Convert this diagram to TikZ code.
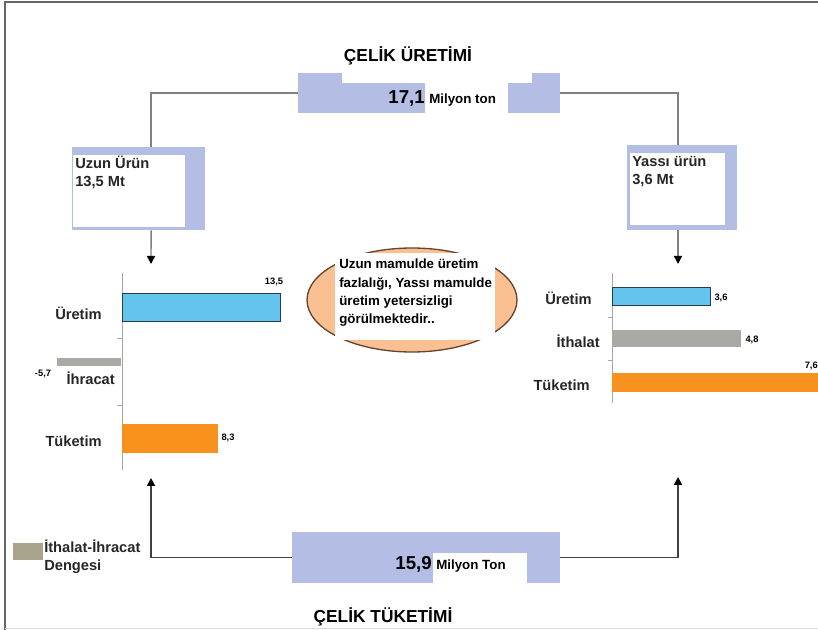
\documentclass[tikz,border=0pt]{standalone}
\usepackage{fontspec}
\setmainfont{Liberation Sans}
\usetikzlibrary{shapes.geometric,arrows.meta}
\definecolor{boxblue}{RGB}{180,189,228}
\definecolor{barblue}{RGB}{100,196,238}
\definecolor{barline}{RGB}{40,60,80}
\definecolor{barorange}{RGB}{247,146,30}
\definecolor{bargray}{RGB}{170,170,164}
\definecolor{ovalfill}{RGB}{250,192,145}
\definecolor{ovaldraw}{RGB}{100,70,45}
\definecolor{linegray}{RGB}{128,128,128}
\definecolor{keygray}{RGB}{168,164,142}
\begin{document}
\begin{tikzpicture}[x=0.75pt, y=-0.75pt,
	blockbox/.style = {fill=boxblue, inner sep=0pt},
	whitebox/.style = {fill=white, inner sep=0pt},
	barbox/.style = {inner sep=0pt},
	lbl/.style = {inner sep=0pt, text=black!85, font=\fontsize{11}{13.5}\selectfont\bfseries},
	num/.style = {inner sep=0pt, font=\fontsize{7}{8}\selectfont\bfseries},
	bignum/.style = {inner sep=0pt, font=\fontsize{14}{16}\selectfont\bfseries},
	unit/.style = {inner sep=0pt, font=\fontsize{10}{12}\selectfont\bfseries},
	title/.style = {inner sep=0pt, font=\fontsize{13}{15}\selectfont\bfseries},
	link/.style = {draw=linegray, line width=1.1pt},
	feed/.style = {draw=black!75, line width=1.3pt},
	tip/.style = {-{Triangle[length=6pt, width=6pt, color=black]}},
	axis/.style = {draw=gray!70, line width=0.6pt}]
	\useasboundingbox (0,0) rectangle (818,630);
	% frame
	\draw[gray!80!black, line width=1pt] (5,630) -- (5,2) -- (818,2);
	\draw[gray!30] (5,628) -- (818,628);
	% production
	\node (prod) at (429,93)	[blockbox, minimum width = 196.5pt, minimum height = 30pt]	{};
	\fill[white] (342,72) rectangle (532,83);
	\fill[white] (425,83) rectangle (508,114);
	\node (prodtitle) at (408,62)	[anchor = base, title]	{ÇELİK ÜRETİMİ};
	\node (prodnum) at (425,104)	[anchor = base east, bignum]	{17,1};
	\node (produnit) at (429,104)	[anchor = base west, unit]	{Milyon ton};
	% product boxes
	\node (uzun) at (138.5,188.5)	[blockbox, minimum width = 99.75pt, minimum height = 62.25pt]	{};
	\node (uzunin) at (129,191)	[whitebox, minimum width = 84pt, minimum height = 54pt]	{};
	\node (uzuntext) at (75,156)	[anchor = north west, lbl, align = left]	{Uzun Ürün\\13,5 Mt};
	\node (yassi) at (682,187.5)	[blockbox, minimum width = 82.5pt, minimum height = 63.75pt]	{};
	\node (yassiin) at (677.5,189)	[whitebox, minimum width = 71.25pt, minimum height = 54pt]	{};
	\node (yassitext) at (632,156)	[anchor = north west, lbl, align = left]	{Yassı ürün\\3,6 Mt};
	\coordinate (uzunchart) at (151,264);
	\coordinate (yassichart) at (678,264);
	\draw[link] (prod.west) -| ([xshift=9.4pt]uzun.north);
	\draw[link] (prod.east) -| ([xshift=-3pt]yassi.north);
	\draw[link, tip] ([xshift=9.4pt]uzun.south) -- (uzunchart);
	\draw[link, tip] ([xshift=-3pt]yassi.south) -- (yassichart);
	% left chart
	\draw[axis] (122,273) -- (122,470);
	\foreach \y in {338,405}
		\draw[axis] (117,\y) -- (122,\y);
	\node (luret) at (122,307)	[barbox, anchor = west, fill = barblue, draw = barline, minimum width = 118.5pt, minimum height = 21pt]	{};
	\node (luretv) at (274,282)	[num]	{13,5};
	\node (luretl) at (102,313)	[lbl, anchor = east]	{Üretim};
	\node (lihr) at (121,362)	[barbox, anchor = east, fill = bargray, minimum width = 48pt, minimum height = 6pt]	{};
	\node (lihrv) at (43,374)	[num]	{-5,7};
	\node (lihrl) at (115,378)	[lbl, anchor = east]	{İhracat};
	\node (ltuk) at (122,438.5)	[barbox, anchor = west, fill = barorange, minimum width = 72pt, minimum height = 21.75pt]	{};
	\node (ltukv) at (228,438)	[num]	{8,3};
	\node (ltukl) at (102,441)	[lbl, anchor = east]	{Tüketim};
	% right chart
	\draw[axis] (612,273) -- (612,403);
	\foreach \y in {317,360}
		\draw[axis] (608,\y) -- (612,\y);
	\node (ruret) at (612,296)	[barbox, anchor = west, fill = barblue, draw = barline, minimum width = 73.5pt, minimum height = 13.5pt]	{};
	\node (ruretv) at (721,298)	[num]	{3,6};
	\node (ruretl) at (592,298)	[lbl, anchor = east]	{Üretim};
	\node (rith) at (612,338.5)	[barbox, anchor = west, fill = bargray, minimum width = 96.75pt, minimum height = 12.75pt]	{};
	\node (rithv) at (752,340)	[num]	{4,8};
	\node (rithl) at (600,341)	[lbl, anchor = east]	{İthalat};
	\node (rtuk) at (612,382.5)	[barbox, anchor = west, fill = barorange, minimum width = 154.5pt, minimum height = 14.25pt]	{};
	\node (rtukv) at (818,366)	[num, anchor = east]	{7,6};
	\node (rtukl) at (590,385)	[lbl, anchor = east]	{Tüketim};
	% comment oval
	\node (oval) at (412,300)	[ellipse, draw = ovaldraw, fill = ovalfill, line width = 1pt, minimum width = 157.5pt, minimum height = 78pt]	{};
	\node (note) at (415,296.5)	[whitebox, minimum width = 120pt, minimum height = 65pt]	{};
	\node (notetext) at (339,259)	[anchor = north west, inner sep = 0pt, align = left, font = \fontsize{10}{13.7}\selectfont\bfseries]	{Uzun mamulde üretim\\fazlalığı, Yassı mamulde\\üretim yetersizligi\\görülmektedir..};
	% consumption
	\node (cons) at (426,557.5)	[blockbox, minimum width = 201pt, minimum height = 38.25pt]	{};
	\fill[white] (433,553) rectangle (527,584);
	\node (consnum) at (432,570)	[anchor = base east, bignum]	{15,9};
	\node (consunit) at (436,570)	[anchor = base west, unit]	{Milyon Ton};
	\node (constitle) at (383,623)	[anchor = base, title]	{ÇELİK TÜKETİMİ};
	\coordinate (uzunfeed) at (151,478);
	\coordinate (yassifeed) at (678,477);
	\draw[feed, tip] (cons.west) -| (uzunfeed);
	\draw[feed, tip] (cons.east) -| (yassifeed);
	% key
	\node (key) at (28,551.5)	[fill = keygray, inner sep = 0pt, minimum width = 22.5pt, minimum height = 12.75pt]	{};
	\node (keytext) at (44,540)	[anchor = north west, lbl, align = left]	{İthalat-İhracat\\Dengesi};
\end{tikzpicture}
\end{document}
